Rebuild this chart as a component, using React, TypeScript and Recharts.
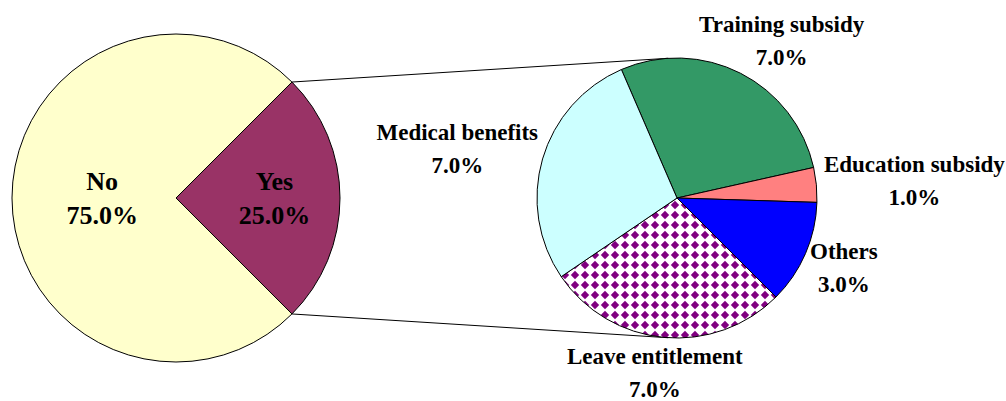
import { PieChart, Pie, Cell, Customized } from 'recharts'

// share of respondents receiving any benefit
const SPLIT_NAMES = ['Yes', 'No']
const SPLIT_VALUES = [25, 75]

// breakdown of the "Yes" share
const BENEFIT_NAMES = ['Training subsidy', 'Education subsidy', 'Others', 'Leave entitlement', 'Medical benefits']
const BENEFIT_VALUES = [7, 1, 3, 7, 7]

const SPLIT_COLORS = ['#993366', '#FFFFCC']
const BENEFIT_COLORS = ['#339966', '#FF8080', '#0000FF', 'url(#diamonds)', '#CCFFFF']

const FONT = '"Liberation Serif", "Times New Roman", serif'
const RAD = Math.PI / 180

const LEFT = { cx: 176, cy: 198, r: 164, start: 45 }
const RIGHT = { cx: 677, cy: 198, r: 140, start: 113.4 }

const splitData = SPLIT_NAMES.map((name, i) => ({ name, value: SPLIT_VALUES[i] }))
const benefitData = BENEFIT_NAMES.map((name, i) => ({ name, value: BENEFIT_VALUES[i] }))

let ctx: CanvasRenderingContext2D | null = null
function textWidth(s: string, size: number) {
  if (!ctx) ctx = document.createElement('canvas').getContext('2d')
  if (!ctx) return s.length * size * 0.5
  ctx.font = `bold ${size}px ${FONT}`
  return ctx.measureText(s).width
}

function TwoLines({ x, y, a, b, size, gap }: { x: number; y: number; a: string; b: string; size: number; gap: number }) {
  const st = { fontFamily: FONT, fontWeight: 'bold' as const, fontSize: size }
  return (
    <g fill="#000">
      <text x={x} y={y - gap / 2} textAnchor="middle" dominantBaseline="central" style={st}>{a}</text>
      <text x={x} y={y + gap / 2} textAnchor="middle" dominantBaseline="central" style={st}>{b}</text>
    </g>
  )
}

function InnerLabel(props: any) {
  const { cx, cy, midAngle, outerRadius, startAngle, endAngle, index } = props
  const half = (Math.abs(endAngle - startAngle) / 2) * RAD
  const centroid = (2 * outerRadius * Math.sin(half)) / (3 * half)
  const r = Math.max(centroid, outerRadius * 0.45)
  const x = cx + r * Math.cos(midAngle * RAD)
  const y = cy - r * Math.sin(midAngle * RAD)
  return <TwoLines x={x} y={y} a={SPLIT_NAMES[index]} b={`${SPLIT_VALUES[index].toFixed(1)}%`} size={26} gap={34} />
}

function OuterLabel(props: any) {
  const { cx, cy, midAngle, outerRadius, index } = props
  const size = 23
  const gap = 33
  const name = BENEFIT_NAMES[index]
  const pct = `${BENEFIT_VALUES[index].toFixed(1)}%`
  const w = Math.max(textWidth(name, size), textWidth(pct, size))
  const h = gap + size
  const cos = Math.cos(midAngle * RAD)
  const sin = Math.sin(midAngle * RAD)
  const x = cx + (outerRadius + 8) * cos + (cos * w) / 2
  const y = cy - (outerRadius + 8) * sin - (sin * h) / 2
  return <TwoLines x={x} y={y} a={name} b={pct} size={size} gap={gap} />
}

// lines from the edges of the "Yes" slice, tangent to the secondary pie
function Connectors() {
  const total = SPLIT_VALUES.reduce((s, v) => s + v, 0)
  const yesSpan = (SPLIT_VALUES[0] / total) * 360
  const edges = [LEFT.start, LEFT.start - yesSpan]
  return (
    <g stroke="#000" strokeWidth={1}>
      {edges.map((a, i) => {
        const px = LEFT.cx + LEFT.r * Math.cos(a * RAD)
        const py = LEFT.cy - LEFT.r * Math.sin(a * RAD)
        const dx = RIGHT.cx - px
        const dy = RIGHT.cy - py
        const d = Math.hypot(dx, dy)
        const phi = Math.atan2(dy, dx)
        const beta = Math.asin(RIGHT.r / d)
        const dir = i === 0 ? phi - beta : phi + beta
        const len = Math.sqrt(d * d - RIGHT.r * RIGHT.r)
        return <line key={i} x1={px} y1={py} x2={px + len * Math.cos(dir)} y2={py + len * Math.sin(dir)} />
      })}
    </g>
  )
}

export default function App() {
  return (
    <div style={{ position: 'absolute', left: 0, top: 0, background: '#fff' }}>
      <PieChart width={1006} height={401} margin={{ top: 0, right: 0, bottom: 0, left: 0 }}>
        <defs>
          <pattern id="diamonds" width={10} height={10} patternUnits="userSpaceOnUse">
            <rect width={10} height={10} fill="#fff" />
            <path d="M5 0.8 L9.2 5 L5 9.2 L0.8 5 Z" fill="#800080" />
          </pattern>
        </defs>
        <Customized component={Connectors} />
        <Pie
          data={splitData} dataKey="value" nameKey="name"
          cx={LEFT.cx} cy={LEFT.cy} outerRadius={LEFT.r}
          startAngle={LEFT.start} endAngle={LEFT.start - 360}
          stroke="#000" strokeWidth={1}
          label={InnerLabel} labelLine={false} isAnimationActive={false}
        >
          {splitData.map((_, i) => <Cell key={i} fill={SPLIT_COLORS[i]} stroke="#000" />)}
        </Pie>
        <Pie
          data={benefitData} dataKey="value" nameKey="name"
          cx={RIGHT.cx} cy={RIGHT.cy} outerRadius={RIGHT.r}
          startAngle={RIGHT.start} endAngle={RIGHT.start - 360}
          stroke="#000" strokeWidth={1}
          label={OuterLabel} labelLine={false} isAnimationActive={false}
        >
          {benefitData.map((_, i) => <Cell key={i} fill={BENEFIT_COLORS[i]} stroke="#000" />)}
        </Pie>
      </PieChart>
    </div>
  )
}
